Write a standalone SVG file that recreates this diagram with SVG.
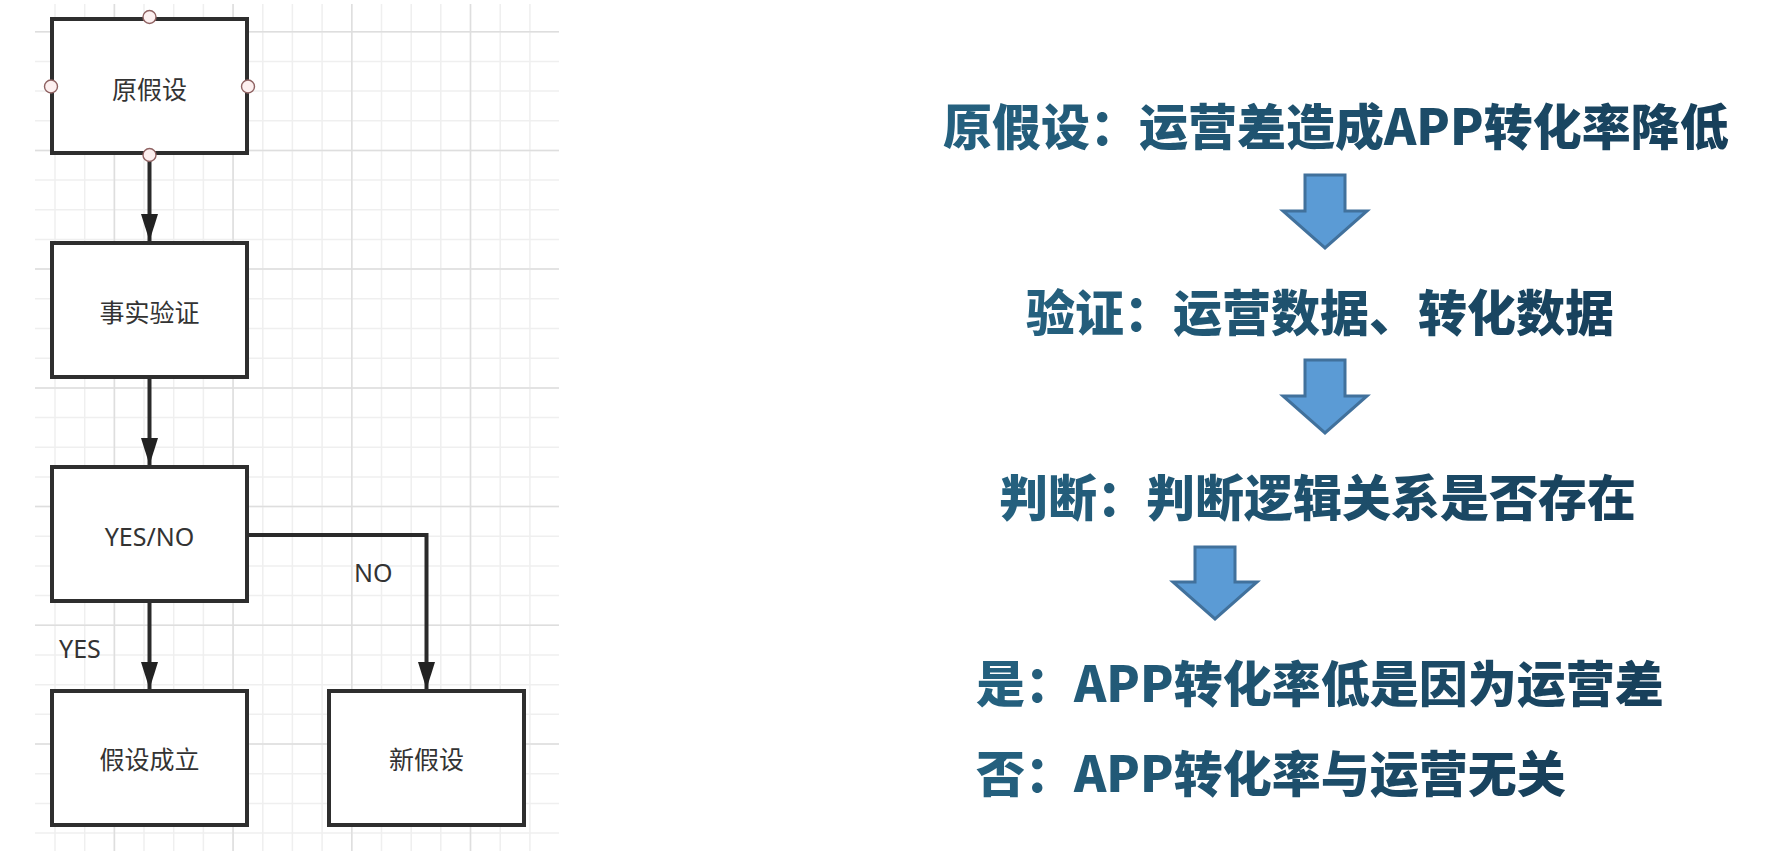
<svg xmlns="http://www.w3.org/2000/svg" width="1770" height="866" viewBox="0 0 1770 866">
<defs>
<style>
.gmin{stroke:#efefef;stroke-width:1.5;fill:none}
.gmaj{stroke:#dedede;stroke-width:1.5;fill:none}
.box{fill:#fff;stroke:#2e2e2e;stroke-width:4}
.port{fill:#fdf0f0;stroke:#8f6262;stroke-width:1.4}
.lbl{font-family:"Noto Sans CJK SC","Noto Sans",sans-serif;font-size:25px;fill:#333;text-anchor:middle}
.lat{font-family:"Noto Sans","Open Sans",sans-serif;font-size:25px;fill:#333}
.conn{fill:none;stroke:#2a2a2a;stroke-width:4}
.blk{fill:#5b9bd5;stroke:#41719c;stroke-width:3;stroke-linejoin:miter}
.big{font-family:"Noto Sans CJK SC",sans-serif;font-size:49px;font-weight:900;fill:url(#tg)}
</style>
<linearGradient id="tg" x1="0" y1="0" x2="1" y2="0">
<stop offset="0" stop-color="#25617f"/>
<stop offset="1" stop-color="#173f5a"/>
</linearGradient>
<marker id="ah" markerUnits="userSpaceOnUse" markerWidth="28" markerHeight="18" viewBox="0 0 28 18" refX="27" refY="9" orient="auto">
<path d="M0,0.5 L27,9 L0,17.5 Z" fill="#222"/>
</marker>
</defs>

<g id="grid">
<path class="gmin" d="M35,31.7H559M35,61.4H559M35,91.1H559M35,120.7H559M35,150.4H559M35,180.1H559M35,209.8H559M35,239.5H559M35,269.1H559M35,298.8H559M35,328.5H559M35,358.2H559M35,387.9H559M35,417.5H559M35,447.2H559M35,476.9H559M35,506.6H559M35,536.3H559M35,565.9H559M35,595.6H559M35,625.3H559M35,655H559M35,684.7H559M35,714.3H559M35,744H559M35,773.7H559M35,803.4H559M35,833.1H559"/>
<path class="gmin" d="M55,4V851M84.7,4V851M114.4,4V851M144,4V851M173.7,4V851M203.4,4V851M233.1,4V851M262.8,4V851M292.4,4V851M322.1,4V851M351.8,4V851M381.5,4V851M411.2,4V851M440.8,4V851M470.5,4V851M500.2,4V851M529.9,4V851"/>
<path class="gmaj" d="M35,31.7H559M35,150.4H559M35,269.1H559M35,387.9H559M35,506.6H559M35,625.3H559M35,744H559M114.4,4V851M233.1,4V851M351.8,4V851M470.5,4V851"/>
</g>

<g id="connectors">
<path class="conn" d="M149.5,155V241" marker-end="url(#ah)"/>
<path class="conn" d="M149.5,379V465" marker-end="url(#ah)"/>
<path class="conn" d="M149.5,603V689" marker-end="url(#ah)"/>
<path class="conn" d="M249,535H426.5V689" marker-end="url(#ah)"/>
<text class="lat" x="59" y="658">YES</text>
<text class="lat" x="354" y="582">NO</text>
</g>

<g id="node-hypothesis">
<rect class="box" x="52" y="19" width="195" height="134"/>
<text class="lbl" x="149.5" y="99">原假设</text>
<circle class="port" cx="149.5" cy="17" r="6.5"/>
<circle class="port" cx="51" cy="86.5" r="6.5"/>
<circle class="port" cx="248" cy="86.5" r="6.5"/>
<circle class="port" cx="149.5" cy="155" r="6.5"/>
</g>

<g id="node-verify">
<rect class="box" x="52" y="243" width="195" height="134"/>
<text class="lbl" x="149.5" y="322">事实验证</text>
</g>

<g id="node-decision">
<rect class="box" x="52" y="467" width="195" height="134"/>
<text class="lat" x="149.5" y="546" text-anchor="middle">YES/NO</text>
</g>

<g id="node-hold">
<rect class="box" x="52" y="691" width="195" height="134"/>
<text class="lbl" x="149.5" y="769">假设成立</text>
</g>

<g id="node-new">
<rect class="box" x="329" y="691" width="195" height="134"/>
<text class="lbl" x="426.5" y="769">新假设</text>
</g>

<g id="flow-arrows">
<path class="blk" d="M1305,175H1345V211H1367L1325,248L1283,211H1305Z"/>
<path class="blk" d="M1305,360H1345V396H1367L1325,433L1283,396H1305Z"/>
<path class="blk" d="M1195,547H1235V582H1257L1215,619L1173,582H1195Z"/>
</g>

<g id="text-hypothesis"><text class="big" x="943" y="145">原假设：运营差造成APP转化率降低</text></g>
<g id="text-verify"><text class="big" x="1026" y="331">验证：运营数据、转化数据</text></g>
<g id="text-judge"><text class="big" x="999" y="516">判断：判断逻辑关系是否存在</text></g>
<g id="text-yes"><text class="big" x="976" y="702">是：APP转化率低是因为运营差</text></g>
<g id="text-no"><text class="big" x="976" y="792">否：APP转化率与运营无关</text></g>
</svg>
